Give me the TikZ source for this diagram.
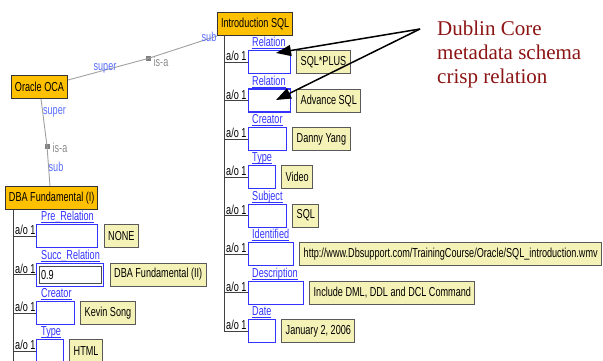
\documentclass[tikz,border=0pt]{standalone}
\usepackage{fontspec}
\usetikzlibrary{arrows.meta}
\usetikzlibrary{positioning}
\usetikzlibrary{calc}
\newfontfamily\uifont{Liberation Sans}[FakeStretch=0.7]
\newfontfamily\notefont{Liberation Serif}
\newcommand{\uitext}{\uifont\fontsize{13}{15}\selectfont}
\newcommand{\fieldname}[1]{$\underline{\smash{\hbox{#1}}}$}
\definecolor{conceptorange}{RGB}{255,192,0}
\definecolor{valueyellow}{RGB}{245,242,184}
\definecolor{fieldblue}{RGB}{51,51,255}
\definecolor{roleblue}{RGB}{90,110,255}
\definecolor{notered}{RGB}{140,20,20}
\definecolor{linkgray}{RGB}{160,160,160}
\tikzset{concept/.style = {rectangle, draw=black!80, line width=1pt, fill=conceptorange, font=\uitext, inner xsep=3.5pt, minimum height=23pt, anchor=north west}}
\tikzset{field/.style = {rectangle, draw=fieldblue, line width=1.2pt, fill=white, minimum height=23pt, anchor=north west}}
\tikzset{value/.style = {rectangle, draw=black!65, line width=1pt, fill=valueyellow, font=\uitext, inner xsep=4pt, minimum height=23pt}}
\tikzset{fieldlab/.style = {font=\uitext, text=fieldblue, inner sep=0pt, anchor=south west}}
\tikzset{ao/.style = {font=\uitext, inner sep=0pt, anchor=south west}}
\tikzset{role/.style = {font=\uitext, text=roleblue, inner sep=0pt}}
\tikzset{isalab/.style = {font=\uitext, text=black!45, inner sep=0pt}}
\tikzset{isa/.style = {rectangle, fill=black!50, minimum size=5pt, inner sep=0pt}}
\tikzset{link/.style = {draw=linkgray, line width=0.9pt}}
\tikzset{trunk/.style = {draw=black!75, line width=0.9pt}}
\tikzset{pointer/.style = {line width=1.5pt, -{Triangle[length=15pt,width=11pt]}}}

\begin{document}
\begin{tikzpicture}[x=1pt, y=-1pt]
\useasboundingbox (0,0) rectangle (603,361);

% concepts
\node [concept] (intro) at (217,12) {Introduction SQL};
\node [concept] (oca) at (11,75) {Oracle OCA};
\node [concept] (dba) at (5,186) {DBA Fundamental (I)};

\node [isa] (isa1) at (148,58.5) {};
\node [isa] (isa2) at (47,146) {};

\draw [link] ($(oca.north east)+(0,5)$) -- (isa1.center) -- (intro.south west);
\draw [link] ($(oca.south)+(1.5,0)$) -- (isa2.center) -- ($(dba.north west)+(45,0)$);

\node [role] (ocasuper) at (105,68.5) {super};
\node [isalab] (isa1lab) at (161,61.5) {is-a};
\node [role] (introsub) at (209,37) {sub};
\node [role] (ocasuperb) at (54.5,112) {super};
\node [isalab] (isa2lab) at (60,147.5) {is-a};
\node [role] (dbasub) at (56,167) {sub};

% Introduction SQL attributes
\coordinate (trunkR) at (224,35);

\node [field, minimum width=42pt] (rel) at (248,50) {};
\node [fieldlab] (rellab) at ($(rel.north west)+(4,-1)$) {\fieldname{Relation}};
\node [value, right=5pt of rel] (relv) {SQL*PLUS};
\node [ao] (relao) at ($(trunkR |- rel.west)+(2,-1)$) {a/o 1};

\node [field, minimum width=42pt] (relb) at (248,88.5) {};
\node [fieldlab] (relblab) at ($(relb.north west)+(4,-1)$) {\fieldname{Relation}};
\node [value, right=5pt of relb] (relbv) {Advance SQL};
\node [ao] (relbao) at ($(trunkR |- relb.west)+(2,-1)$) {a/o 1};

\node [field, minimum width=38pt] (creator) at (248,127) {};
\node [fieldlab] (creatorlab) at ($(creator.north west)+(4,-1)$) {\fieldname{Creator}};
\node [value, right=5pt of creator] (creatorv) {Danny Yang};
\node [ao] (creatorao) at ($(trunkR |- creator.west)+(2,-1)$) {a/o 1};

\node [field, minimum width=27pt] (type) at (248,165) {};
\node [fieldlab] (typelab) at ($(type.north west)+(4,-1)$) {\fieldname{Type}};
\node [value, right=5pt of type] (typev) {Video};
\node [ao] (typeao) at ($(trunkR |- type.west)+(2,-1)$) {a/o 1};

\node [field, minimum width=38pt] (subject) at (248,203.5) {};
\node [fieldlab] (subjectlab) at ($(subject.north west)+(4,-1)$) {\fieldname{Subject}};
\node [value, right=5pt of subject] (subjectv) {SQL};
\node [ao] (subjectao) at ($(trunkR |- subject.west)+(2,-1)$) {a/o 1};

\node [field, minimum width=45pt] (ident) at (248,242) {};
\node [fieldlab] (identlab) at ($(ident.north west)+(4,-1)$) {\fieldname{Identified}};
\node [value, right=5pt of ident] (identv) {http://www.Dbsupport.com/TrainingCourse/Oracle/SQL\_introduction.wmv};
\node [ao] (identao) at ($(trunkR |- ident.west)+(2,-1)$) {a/o 1};

\node [field, minimum width=55pt] (descr) at (248,280.5) {};
\node [fieldlab] (descrlab) at ($(descr.north west)+(4,-1)$) {\fieldname{Description}};
\node [value, right=5pt of descr] (descrv) {Include DML, DDL and DCL Command};
\node [ao] (descrao) at ($(trunkR |- descr.west)+(2,-1)$) {a/o 1};

\node [field, minimum width=27pt] (date) at (248,319) {};
\node [fieldlab] (datelab) at ($(date.north west)+(4,-1)$) {\fieldname{Date}};
\node [value, right=5pt of date] (datev) {January 2, 2006};
\node [ao] (dateao) at ($(trunkR |- date.west)+(2,-1)$) {a/o 1};

\draw [trunk] (trunkR) |- (date.west);
\draw [trunk] (trunkR |- rel.west) -- (rel.west);
\draw [trunk] (trunkR |- relb.west) -- (relb.west);
\draw [trunk] (trunkR |- creator.west) -- (creator.west);
\draw [trunk] (trunkR |- type.west) -- (type.west);
\draw [trunk] (trunkR |- subject.west) -- (subject.west);
\draw [trunk] (trunkR |- ident.west) -- (ident.west);
\draw [trunk] (trunkR |- descr.west) -- (descr.west);

% DBA Fundamental (I) attributes
\coordinate (trunkL) at (13,210);
\coordinate (trunkLend) at (13,365);

\node [field, minimum width=61pt] (prerel) at (36,224) {};
\node [fieldlab] (prerellab) at ($(prerel.north west)+(5,-1)$) {\fieldname{Pre\_Relation}};
\node [value, right=5.5pt of prerel] (prerelv) {NONE};
\node [ao] (prerelao) at ($(trunkL |- prerel.west)+(2,-1)$) {a/o 1};

\node [field, minimum width=67pt] (succrel) at (36,262.5) {};
\node [fieldlab] (succrellab) at ($(succrel.north west)+(5,-1)$) {\fieldname{Succ\_Relation}};
\node [draw=black!70, line width=1pt, fill=white, minimum height=17pt, text width=58pt, inner xsep=2pt, align=left, font=\uitext] (succin) at (succrel.center) {0.9};
\node [value, right=5.5pt of succrel] (succrelv) {DBA Fundamental (II)};
\node [ao] (succrelao) at ($(trunkL |- succrel.west)+(2,-1)$) {a/o 1};

\node [field, minimum width=38pt] (dcreator) at (36,301) {};
\node [fieldlab] (dcreatorlab) at ($(dcreator.north west)+(5,-1)$) {\fieldname{Creator}};
\node [value, right=5pt of dcreator] (dcreatorv) {Kevin Song};
\node [ao] (dcreatorao) at ($(trunkL |- dcreator.west)+(2,-1)$) {a/o 1};

\node [field, minimum width=27pt] (dtype) at (36,339) {};
\node [fieldlab] (dtypelab) at ($(dtype.north west)+(5,-1)$) {\fieldname{Type}};
\node [value, right=5pt of dtype] (dtypev) {HTML};
\node [ao] (dtypeao) at ($(trunkL |- dtype.west)+(2,-1)$) {a/o 1};

\draw [trunk] (trunkL) -- (trunkLend);
\draw [trunk] (trunkL |- prerel.west) -- (prerel.west);
\draw [trunk] (trunkL |- succrel.west) -- (succrel.west);
\draw [trunk] (trunkL |- dcreator.west) -- (dcreator.west);
\draw [trunk] (trunkL |- dtype.west) -- (dtype.west);

% annotation
\node [anchor=north west, inner sep=0pt, align=left, text=notered, font=\notefont\fontsize{21}{24}\selectfont] (note) at (437,20.5) {Dublin Core\\metadata schema\\crisp relation};
\coordinate (notetip) at (420,29);
\coordinate (hit1) at (276,53);
\coordinate (hit2) at (276,100);
\draw [pointer] (notetip) -- (hit1);
\draw [pointer] (notetip) -- (hit2);

\end{tikzpicture}
\end{document}
